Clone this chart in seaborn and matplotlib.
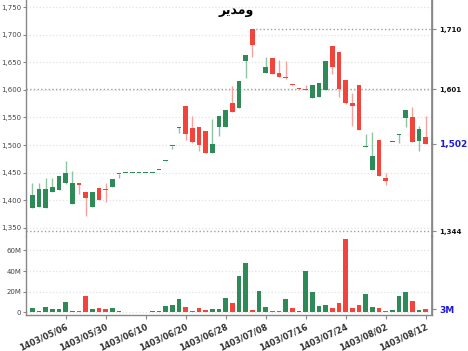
import matplotlib
matplotlib.use("Agg")
import matplotlib.pyplot as plt
import seaborn as sns
import numpy as np
import pandas as pd

# --- Data ---
opens = [1385, 1388, 1386, 1415, 1418, 1431, 1393, 1432, 1414, 1388,
         1422, 1420, 1423, 1447, 1449.5, 1449.5, 1449.5, 1449.5, 1449.5, 1454.5,
         1471.5, 1498, 1530.5, 1570, 1530, 1533, 1526, 1486, 1533, 1532,
         1577, 1568, 1653, 1710, 1649, 1631, 1658, 1630, 1623, 1611,
         1602, 1602, 1585, 1587, 1600, 1680, 1669, 1618, 1577, 1608,
         1497, 1455, 1509, 1441, 1505.5, 1519, 1549, 1550, 1508, 1514]
highs = [1432, 1432, 1441, 1441, 1443, 1471, 1453, 1432, 1414, 1414,
         1422, 1432, 1438, 1448, 1450, 1450, 1450, 1450, 1450, 1455,
         1472, 1499, 1532, 1570, 1553, 1533, 1526, 1547, 1552, 1564,
         1607, 1616, 1663, 1710, 1649, 1659, 1658, 1654, 1652, 1611,
         1602, 1609, 1609, 1613, 1652, 1680, 1669, 1618, 1595, 1608,
         1520, 1524, 1509, 1449, 1506, 1520, 1564, 1569, 1535, 1553]
lows = [1385, 1388, 1386, 1415, 1418, 1429, 1393, 1411, 1371, 1388,
        1400, 1397, 1423, 1440, 1449.5, 1449.5, 1449.5, 1449.5, 1449.5, 1454.5,
        1471.5, 1492, 1521, 1510, 1503, 1490, 1486, 1486, 1516, 1532,
        1559, 1568, 1621, 1659, 1648, 1631, 1629, 1624, 1620, 1609,
        1601.5, 1599, 1585, 1587, 1600, 1628, 1588, 1575, 1535, 1527,
        1496, 1455, 1443, 1428, 1505.5, 1503, 1532, 1506, 1490, 1502]
closes = [1409, 1420, 1420, 1423, 1443, 1450, 1431, 1428, 1404, 1414,
          1400, 1418, 1438, 1448, 1450, 1450, 1450, 1450, 1450, 1455,
          1472, 1499, 1532, 1520, 1505, 1500, 1486, 1502, 1552, 1564,
          1559, 1616, 1663, 1681, 1648, 1642, 1629, 1624, 1621, 1609,
          1601.5, 1600, 1609, 1613, 1652, 1642, 1601, 1576, 1570, 1527,
          1498, 1481, 1443, 1435, 1506, 1520, 1564, 1506, 1529, 1502]
volumes_m = [4.5, 1.2, 5.5, 3.0, 3.0, 10.3, 1.6, 1.6, 15.5, 3.0,
             4.6, 3.0, 3.7, 1.0, 0, 0, 0, 0, 1.3, 1.3,
             6.1, 6.8, 12.9, 5.5, 1.6, 4.5, 2.6, 3.2, 2.9, 13.7,
             9.0, 35.5, 47.7, 2.6, 21.0, 5.2, 1.6, 1.3, 12.9, 4.2,
             1.6, 40.0, 19.7, 5.8, 7.4, 3.9, 9.4, 71.0, 3.9, 7.4,
             18.0, 5.2, 4.2, 1.3, 2.3, 15.8, 19.4, 11.0, 2.6, 2.8]
volume_dir = list("GGGGGGGRRGRRGGGGGGGGGGGRRRRGGGRGGRGGRRGRGGGGGRRRRRGGRRGGGRGR")

tick_pos = [5, 11, 17, 23, 29, 35, 41, 47, 53, 59]
tick_labels = ['1403/05/06', '1403/05/30', '1403/06/10', '1403/06/20', '1403/06/28',
               '1403/07/08', '1403/07/16', '1403/07/24', '1403/08/02', '1403/08/12']

level_high = 1710
level_mid = 1601
level_low = 1344
last_volume_label = '3M'

# symbol name, shaped by hand (visual order, presentation forms) since matplotlib has no Arabic shaping
title = '\uFEAE\uFEF3\uFEAA\uFEE3\uFEED'   # ومدیر

GREEN = '#2e8b57'
RED = '#f2443a'
GREEN_WICK = '#8fc4a5'
RED_WICK = '#f5a39d'
BLUE = '#1a1adb'

# --- Setup ---
sns.set_theme(style="white")
plt.rcParams['font.family'] = ['DejaVu Sans']

fig = plt.figure(figsize=(4.68, 3.51), dpi=100)
ax_p = fig.add_axes([0.0556, 0.3276, 0.8675, 0.6724])
ax_v = fig.add_axes([0.0556, 0.1026, 0.8675, 0.2250])

n = len(closes)
idx = np.arange(n)
o = np.array(opens)
c = np.array(closes)
h = np.array(highs)
l = np.array(lows)
up = c >= o

# --- Candles ---
wick_cols = np.where(up, GREEN_WICK, RED_WICK)
body_cols = np.where(up, GREEN, RED)
ax_p.vlines(idx, l, h, colors=wick_cols, linewidth=1.0, zorder=2)
body_bottom = np.minimum(o, c)
body_h = np.maximum(np.abs(c - o), 1.6)
ax_p.bar(idx, body_h, bottom=body_bottom, width=0.7, color=body_cols,
         linewidth=0, zorder=3)

# --- Volume ---
df_v = pd.DataFrame({'idx': idx, 'vol': volumes_m, 'dir': volume_dir})
sns.barplot(data=df_v, x='idx', y='vol', hue='dir',
            palette={'G': GREEN, 'R': RED}, dodge=False, width=0.7, saturation=1,
            errorbar=None, legend=False, ax=ax_v, linewidth=0, zorder=3)

# --- Axes limits ---
for ax in (ax_p, ax_v):
    ax.set_xlim(-0.95, n - 1 + 0.95)
ax_p.set_ylim(1335, 1763)
ax_v.set_ylim(-2.6, 74)

# --- Gridlines / reference levels ---
grid_kw = dict(color='#e2e2e2', linestyle=':', linewidth=0.9, zorder=0)
for y in range(1350, 1751, 50):
    ax_p.axhline(y, **grid_kw)
for y in range(0, 61, 20):
    ax_v.axhline(y, **grid_kw)

ref_kw = dict(color='#a0a0a0', linestyle=':', linewidth=1.0, zorder=1)
ax_p.hlines(level_high, int(np.argmax(h)), n - 1 + 0.95, **ref_kw)
ax_p.axhline(level_mid, **ref_kw)
ax_p.axhline(level_low, **ref_kw)

# --- Spines & ticks ---
for ax in (ax_p, ax_v):
    for s in ax.spines.values():
        s.set_color('#888888')
        s.set_linewidth(1.0)
ax_p.spines['top'].set_visible(False)
ax_p.spines['bottom'].set_visible(False)
ax_v.spines['top'].set_visible(False)

ax_p.set_yticks(range(1350, 1751, 50))
ax_p.set_yticklabels([f'{v:,}' for v in range(1350, 1751, 50)])
ax_p.set_xticks([])
ax_v.set_yticks([0, 20, 40, 60])
ax_v.set_yticklabels(['0', '20M', '40M', '60M'])
ax_v.set_xticks(tick_pos)
ax_v.set_xticklabels(tick_labels, rotation=25, ha='right', rotation_mode='anchor',
                     fontsize=6, fontweight='bold', color='#333333')
ax_v.set_xlabel('')
ax_v.set_ylabel('')

for ax in (ax_p, ax_v):
    ax.tick_params(axis='y', left=True, length=2.5, width=0.8, color='#888888',
                   labelsize=5, labelcolor='#444444', pad=1)
ax_v.tick_params(axis='x', bottom=True, length=3, width=0.8, color='#888888', pad=2)

# --- Right-hand level labels ---
ax_pr = ax_p.twinx()
ax_pr.set_ylim(ax_p.get_ylim())
last_close = closes[-1]
right_levels = [level_low, last_close, level_mid, level_high]
ax_pr.set_yticks(right_levels)
ax_pr.set_yticklabels([f'{v:,}' for v in right_levels])
for lab, v in zip(ax_pr.get_yticklabels(), right_levels):
    lab.set_fontweight('bold')
    if v == last_close:
        lab.set_color(BLUE)
        lab.set_fontsize(6.5)
    else:
        lab.set_color('#111111')
        lab.set_fontsize(5)
ax_pr.tick_params(axis='y', right=True, length=3, width=0.8, color='#888888', pad=2)
for s in ax_pr.spines.values():
    s.set_visible(False)
ax_pr.spines['right'].set_visible(True)
ax_pr.spines['right'].set_color('#888888')

ax_vr = ax_v.twinx()
ax_vr.set_ylim(ax_v.get_ylim())
ax_vr.set_yticks([volumes_m[-1]])
ax_vr.set_yticklabels([last_volume_label], color=BLUE, fontsize=6.5, fontweight='bold')
ax_vr.tick_params(axis='y', right=True, length=3, width=0.8, color='#888888', pad=2)
for s in ax_vr.spines.values():
    s.set_visible(False)
ax_vr.spines['right'].set_visible(True)
ax_vr.spines['right'].set_color('#888888')

# --- Title ---
ax_p.text(0.517, 0.985, title, transform=ax_p.transAxes, ha='center', va='top',
          fontsize=9, fontweight='bold', color='black')

fig.savefig('out.png', dpi=100)
